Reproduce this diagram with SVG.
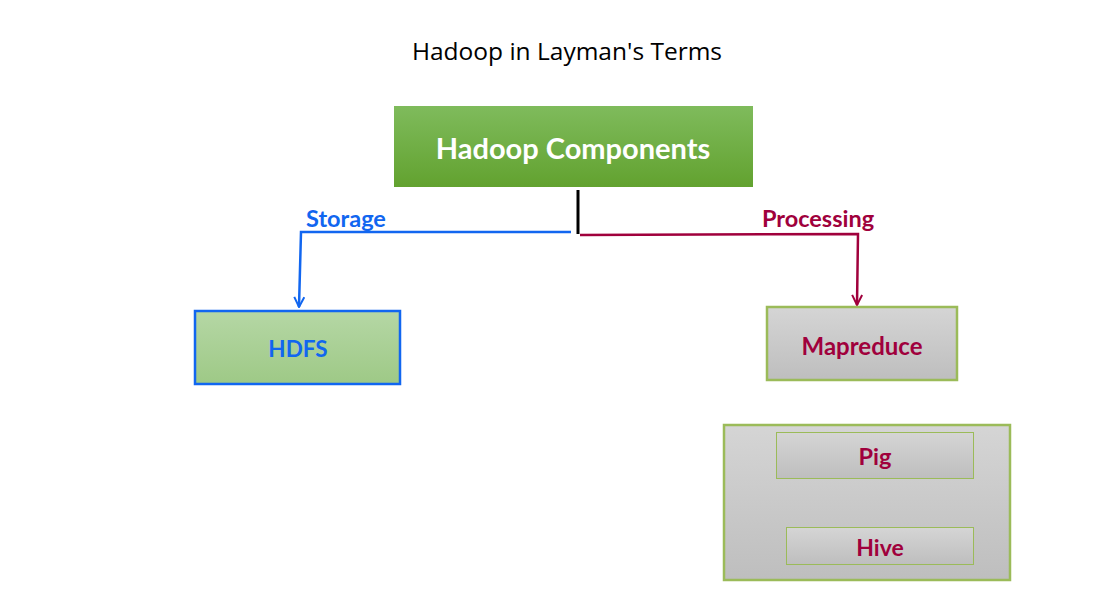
<svg xmlns="http://www.w3.org/2000/svg" width="1101" height="614" viewBox="0 0 1101 614">
<style>
.lbl{font-family:Lato,"Open Sans","Liberation Sans",sans-serif;font-weight:bold;text-anchor:middle;dominant-baseline:central}
.maroon{fill:#a0003c}
.blue{fill:#1166f0}
.white{fill:#ffffff}
.gray{fill:url(#gGray)}
</style>
<defs>
<linearGradient id="gGreen" x1="0" y1="0" x2="0" y2="1"><stop offset="0" stop-color="#7fbb5c"/><stop offset="1" stop-color="#62a22f"/></linearGradient>
<linearGradient id="gLight" x1="0" y1="0" x2="0" y2="1"><stop offset="0" stop-color="#b5d7a5"/><stop offset="1" stop-color="#9ec986"/></linearGradient>
<linearGradient id="gGray" x1="0" y1="0" x2="0" y2="1"><stop offset="0" stop-color="#d5d5d5"/><stop offset="1" stop-color="#bebebe"/></linearGradient>
<marker id="aBlue" viewBox="0 0 12 12" refX="11" refY="6" markerWidth="12" markerHeight="12" orient="auto" markerUnits="userSpaceOnUse"><path d="M1,1 L11,6 L1,11" fill="none" stroke="#1166f0" stroke-width="2"/></marker>
<marker id="aMaroon" viewBox="0 0 12 12" refX="11" refY="6" markerWidth="12" markerHeight="12" orient="auto" markerUnits="userSpaceOnUse"><path d="M1,1 L11,6 L1,11" fill="none" stroke="#a0003c" stroke-width="2"/></marker>
</defs>
<rect width="1101" height="614" fill="#ffffff"/>
<text x="567" y="50" font-family="'Open Sans','Noto Sans',sans-serif" font-size="24.5" text-anchor="middle" dominant-baseline="central" fill="#000">Hadoop in Layman's Terms</text>

<g id="connectors">
<line x1="578" y1="190" x2="578" y2="234" stroke="#000" stroke-width="3"/>
<path d="M571,232 L301,232 L299,307" fill="none" stroke="#1166f0" stroke-width="2.5" marker-end="url(#aBlue)"/>
<path d="M580,235 L858,234 L857,305" fill="none" stroke="#a0003c" stroke-width="2.5" marker-end="url(#aMaroon)"/>
<text class="lbl blue" x="346" y="218" font-size="23.5">Storage</text>
<text class="lbl maroon" x="818" y="218" font-size="23.5">Processing</text>
</g>

<g id="hadoop-components">
<rect x="394" y="106" width="359" height="81" fill="url(#gGreen)"/>
<text class="lbl white" x="573" y="147" font-size="29">Hadoop Components</text>
</g>

<g id="hdfs">
<rect x="195" y="311" width="205" height="73" fill="url(#gLight)" stroke="#1166f0" stroke-width="2.5"/>
<text class="lbl blue" x="298" y="348" font-size="22.5">HDFS</text>
</g>

<g id="mapreduce">
<rect x="767" y="307" width="190" height="73" class="gray" stroke="#9bbb59" stroke-width="2.5"/>
<text class="lbl maroon" x="862" y="345" font-size="24">Mapreduce</text>
</g>

<g id="ecosystem">
<rect x="724" y="425" width="286" height="155" class="gray" stroke="#9bbb59" stroke-width="2.5"/>
</g>

<g id="pig">
<rect x="776.5" y="432.5" width="197" height="46" class="gray" stroke="#9bbb59" stroke-width="1"/>
<text class="lbl maroon" x="875" y="456" font-size="23.5">Pig</text>
</g>

<g id="hive">
<rect x="786.5" y="527.5" width="187" height="37" class="gray" stroke="#9bbb59" stroke-width="1"/>
<text class="lbl maroon" x="880" y="547" font-size="23">Hive</text>
</g>
</svg>
